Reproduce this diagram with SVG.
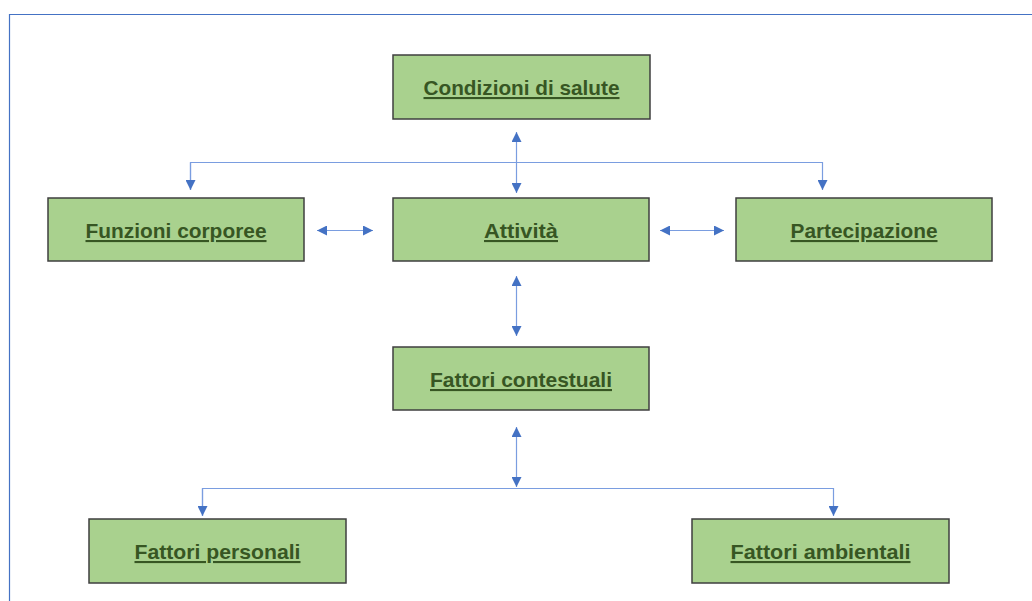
<svg xmlns="http://www.w3.org/2000/svg" width="1032" height="601" viewBox="0 0 1032 601">
<style>
.box{fill:#A9D18E;stroke:#3f3f3f;stroke-width:1.5}
.lbl{font-family:"Liberation Sans",Arial,sans-serif;font-weight:bold;font-size:21px;fill:#375623;text-anchor:middle;text-decoration:underline}
.con{fill:none;stroke:#7a9de0;stroke-width:1.2}
.frame{fill:none;stroke:#4472C4;stroke-width:1.2}
</style>
<defs>
<marker id="ah" viewBox="0 0 10 10" refX="10" refY="5" markerWidth="10" markerHeight="10" markerUnits="userSpaceOnUse" orient="auto-start-reverse">
<path d="M0,0 L10,5 L0,10 z" fill="#4472C4"/>
</marker>
</defs>
<rect width="1032" height="601" fill="#ffffff"/>
<path class="frame" d="M9.5,601 V14.5 H1032"/>
<g id="connectors">
<path class="con" d="M516.5,132 V193" marker-start="url(#ah)" marker-end="url(#ah)"/>
<path class="con" d="M190.5,190 V162.5 H822.5 V190" marker-end="url(#ah)"/>
<path class="con" d="M190.5,190 V162.5" marker-start="url(#ah)"/>
<path class="con" d="M317,230.5 H373" marker-start="url(#ah)" marker-end="url(#ah)"/>
<path class="con" d="M660,230.5 H724" marker-start="url(#ah)" marker-end="url(#ah)"/>
<path class="con" d="M516.5,276 V336" marker-start="url(#ah)" marker-end="url(#ah)"/>
<path class="con" d="M516.5,427 V487" marker-start="url(#ah)" marker-end="url(#ah)"/>
<path class="con" d="M202.5,516 V488.5 H833.5 V516" marker-end="url(#ah)"/>
<path class="con" d="M202.5,516 V488.5" marker-start="url(#ah)"/>
</g>
<g id="condizioni">
<rect class="box" x="393" y="55" width="257" height="64"/>
<text class="lbl" x="521.5" y="95" textLength="196" lengthAdjust="spacingAndGlyphs">Condizioni di salute</text>
</g>
<g id="funzioni">
<rect class="box" x="48" y="198" width="256" height="63"/>
<text class="lbl" x="176" y="238" textLength="181" lengthAdjust="spacingAndGlyphs">Funzioni corporee</text>
</g>
<g id="attivita">
<rect class="box" x="393" y="198" width="256" height="63"/>
<text class="lbl" x="521" y="238" textLength="74" lengthAdjust="spacingAndGlyphs">Attività</text>
</g>
<g id="partecipazione">
<rect class="box" x="736" y="198" width="256" height="63"/>
<text class="lbl" x="864" y="238" textLength="147" lengthAdjust="spacingAndGlyphs">Partecipazione</text>
</g>
<g id="contestuali">
<rect class="box" x="393" y="347" width="256" height="63"/>
<text class="lbl" x="521" y="387" textLength="182" lengthAdjust="spacingAndGlyphs">Fattori contestuali</text>
</g>
<g id="personali">
<rect class="box" x="89" y="519" width="257" height="64"/>
<text class="lbl" x="217.5" y="559" textLength="166" lengthAdjust="spacingAndGlyphs">Fattori personali</text>
</g>
<g id="ambientali">
<rect class="box" x="692" y="519" width="257" height="64"/>
<text class="lbl" x="820.5" y="559" textLength="180" lengthAdjust="spacingAndGlyphs">Fattori ambientali</text>
</g>
</svg>
